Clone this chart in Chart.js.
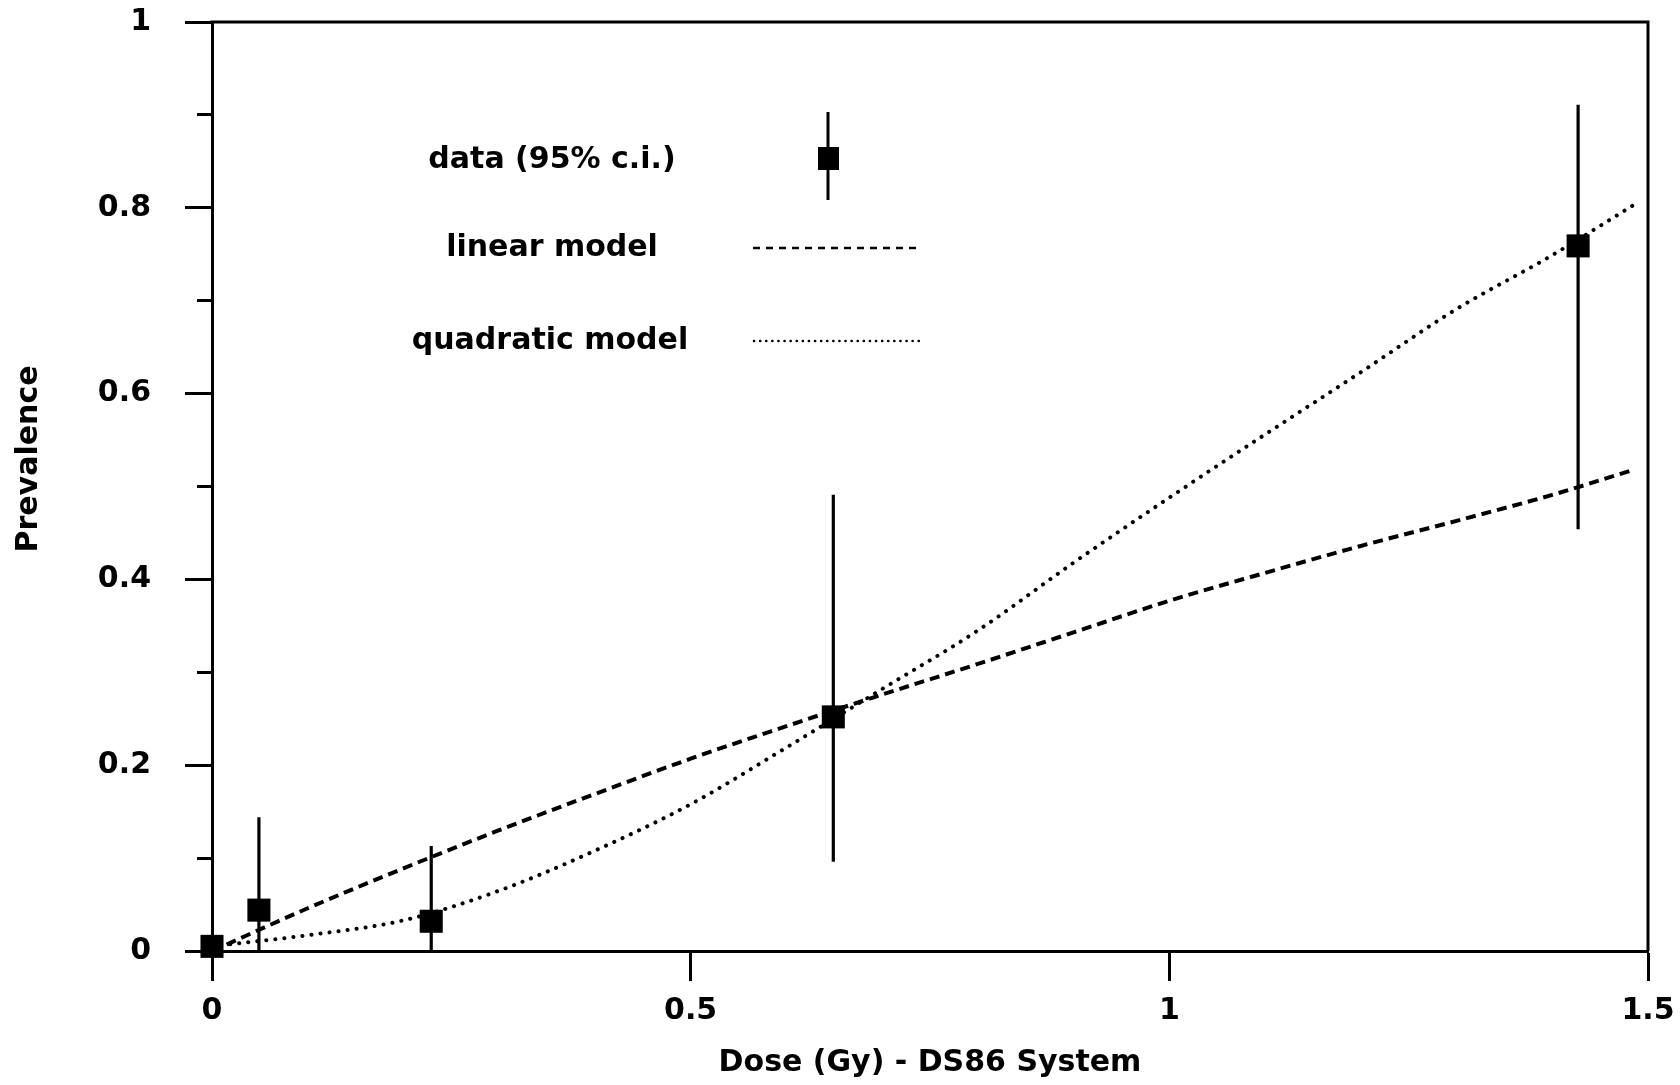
<!DOCTYPE html>
<html>
<head>
<meta charset="utf-8">
<title>Prevalence by dose</title>
<script src="https://cdn.jsdelivr.net/npm/chart.js@4/dist/chart.umd.min.js"></script>
<style>
  html, body { margin: 0; padding: 0; background: #fff; }
  canvas { display: block; }
</style>
</head>
<body>
<canvas id="chart" width="1680" height="1085"></canvas>
<script>
// Observed prevalence per dose group, with 95% confidence limits
const doseGy     = [0.0,   0.049, 0.229, 0.649, 1.427];
const prevalence = [0.005, 0.044, 0.032, 0.252, 0.759];
const ciLower    = [0.0,   0.0,   0.0,   0.096, 0.454];
const ciUpper    = [0.01,  0.144, 0.113, 0.491, 0.911];

// Fitted dose-response curves, read at these doses
const modelDose    = [0, 0.1, 0.2, 0.3, 0.4, 0.5, 0.6, 0.7, 0.8, 0.9, 1.0, 1.1, 1.2, 1.3, 1.4, 1.485];
const linearFit    = [0, 0.046, 0.089, 0.130, 0.169, 0.207, 0.242, 0.276, 0.309, 0.343, 0.377, 0.407, 0.436, 0.463, 0.491, 0.518];
const quadraticFit = [0.005, 0.017, 0.033, 0.065, 0.108, 0.158, 0.219, 0.282, 0.345, 0.418, 0.488, 0.556, 0.623, 0.691, 0.749, 0.803];

// Axis ticks
const xTicks      = [0, 0.5, 1, 1.5];
const yTicks      = [0, 0.2, 0.4, 0.6, 0.8, 1];
const yMinorTicks = [0.1, 0.3, 0.5, 0.7, 0.9];

const seriesNames = ['data (95% c.i.)', 'linear model', 'quadratic model'];
const xTitle = 'Dose (Gy) - DS86 System';
const yTitle = 'Prevalence';

const FONT = "'DejaVu Sans', 'Liberation Sans', Arial, sans-serif";
const INK = '#000';
const textFont = { family: FONT, size: 30, weight: 'bold', lineHeight: 1 };

// closes the plot box on top and right
const frame = {
  id: 'frame',
  beforeDatasetsDraw(chart) {
    const { ctx, chartArea: a } = chart;
    ctx.save();
    ctx.strokeStyle = INK;
    ctx.lineWidth = 3;
    ctx.beginPath();
    ctx.moveTo(a.left - 1.5, a.top);
    ctx.lineTo(a.right, a.top);
    ctx.lineTo(a.right, a.bottom);
    ctx.stroke();
    ctx.restore();
  }
};

// vertical confidence bars behind the squares
const errorBars = {
  id: 'errorBars',
  beforeDatasetsDraw(chart) {
    const { ctx, scales: { x, y } } = chart;
    ctx.save();
    ctx.strokeStyle = INK;
    ctx.lineWidth = 3.2;
    doseGy.forEach((d, i) => {
      const px = x.getPixelForValue(d);
      ctx.beginPath();
      ctx.moveTo(px, y.getPixelForValue(ciLower[i]));
      ctx.lineTo(px, y.getPixelForValue(ciUpper[i]));
      ctx.stroke();
    });
    ctx.restore();
  }
};

// key inside the plot: label on the left, sample on the right
const keyBox = {
  id: 'keyBox',
  afterDraw(chart) {
    const ctx = chart.ctx;
    ctx.save();
    ctx.fillStyle = INK;
    ctx.strokeStyle = INK;
    ctx.font = `bold 30px ${FONT}`;
    ctx.textAlign = 'center';
    ctx.textBaseline = 'middle';
    ctx.fillText(seriesNames[0], 552, 160);
    ctx.fillText(seriesNames[1], 552, 248);
    ctx.fillText(seriesNames[2], 550, 341);

    // data marker with its bar
    ctx.lineWidth = 3;
    ctx.beginPath();
    ctx.moveTo(828, 112);
    ctx.lineTo(828, 200);
    ctx.stroke();
    ctx.fillRect(818, 147, 21, 23);

    // dashed sample
    ctx.lineWidth = 2.6;
    ctx.setLineDash([7, 6]);
    ctx.beginPath();
    ctx.moveTo(753, 248);
    ctx.lineTo(921, 248);
    ctx.stroke();

    // dotted sample
    ctx.lineCap = 'round';
    ctx.setLineDash([0.1, 6]);
    ctx.beginPath();
    ctx.moveTo(754, 341);
    ctx.lineTo(921, 341);
    ctx.stroke();
    ctx.restore();
  }
};

// rotated title for the value axis
const valueTitle = {
  id: 'valueTitle',
  afterDraw(chart) {
    const ctx = chart.ctx;
    ctx.save();
    ctx.fillStyle = INK;
    ctx.font = `bold 30px ${FONT}`;
    ctx.textAlign = 'center';
    ctx.textBaseline = 'middle';
    ctx.translate(29, 459);
    ctx.rotate(-Math.PI / 2);
    ctx.fillText(yTitle, 0, 0);
    ctx.restore();
  }
};

const toTicks = arr => arr.map(v => ({ value: v }));
const fmt = v => String(+(+v).toFixed(2));

new Chart(document.getElementById('chart'), {
  data: {
    datasets: [
      {
        type: 'scatter',
        label: seriesNames[0],
        data: doseGy.map((d, i) => ({ x: d, y: prevalence[i] })),
        xAxisID: 'x', yAxisID: 'y',
        pointStyle: 'rect',
        pointRadius: 16.3,
        pointBackgroundColor: INK,
        pointBorderWidth: 0,
        clip: false
      },
      {
        type: 'line',
        label: seriesNames[1],
        data: modelDose.map((d, i) => ({ x: d, y: linearFit[i] })),
        xAxisID: 'x', yAxisID: 'y',
        borderColor: INK,
        borderWidth: 4,
        borderDash: [10, 6],
        pointRadius: 0,
        cubicInterpolationMode: 'monotone',
        fill: false
      },
      {
        type: 'line',
        label: seriesNames[2],
        data: modelDose.map((d, i) => ({ x: d, y: quadraticFit[i] })),
        xAxisID: 'x', yAxisID: 'y',
        borderColor: INK,
        borderWidth: 4,
        borderDash: [0.1, 9],
        borderCapStyle: 'round',
        pointRadius: 0,
        cubicInterpolationMode: 'monotone',
        fill: false
      }
    ]
  },
  options: {
    responsive: false,
    devicePixelRatio: 1,
    animation: false,
    events: [],
    layout: { padding: { left: 0, right: 32, top: 22, bottom: 0 } },
    plugins: { legend: { display: false }, tooltip: { enabled: false } },
    scales: {
      x: {
        type: 'linear',
        position: 'bottom',
        min: 0, max: 1.5,
        afterBuildTicks: s => { s.ticks = toTicks(xTicks); },
        afterFit: s => { s.height = 134; s.paddingLeft = 0; s.paddingRight = 0; },
        ticks: { color: INK, font: textFont, padding: 15, maxRotation: 0, autoSkip: false, callback: fmt },
        grid: { drawOnChartArea: false, tickLength: 30, tickWidth: 3, tickColor: INK },
        border: { display: true, color: INK, width: 3 },
        title: { display: true, text: xTitle, color: INK, font: textFont, padding: { top: 0, bottom: 7 } }
      },
      y: {
        type: 'linear',
        position: 'left',
        weight: 1,
        min: 0, max: 1,
        afterBuildTicks: s => { s.ticks = toTicks(yTicks); },
        afterFit: s => { s.width = 212; s.paddingTop = 0; s.paddingBottom = 0; },
        ticks: { color: INK, font: textFont, padding: 34, callback: fmt },
        grid: { drawOnChartArea: false, tickLength: 27, tickWidth: 3, tickColor: INK },
        border: { display: true, color: INK, width: 3 }
      },
      yMinor: {
        type: 'linear',
        axis: 'y',
        position: 'left',
        weight: 0,
        min: 0, max: 1,
        afterBuildTicks: s => { s.ticks = toTicks(yMinorTicks); },
        afterFit: s => { s.width = 0; s.paddingTop = 0; s.paddingBottom = 0; },
        ticks: { display: false },
        grid: { drawOnChartArea: false, tickLength: 15, tickWidth: 3, tickColor: INK },
        border: { display: false }
      }
    }
  },
  plugins: [frame, errorBars, keyBox, valueTitle]
});
</script>
</body>
</html>
